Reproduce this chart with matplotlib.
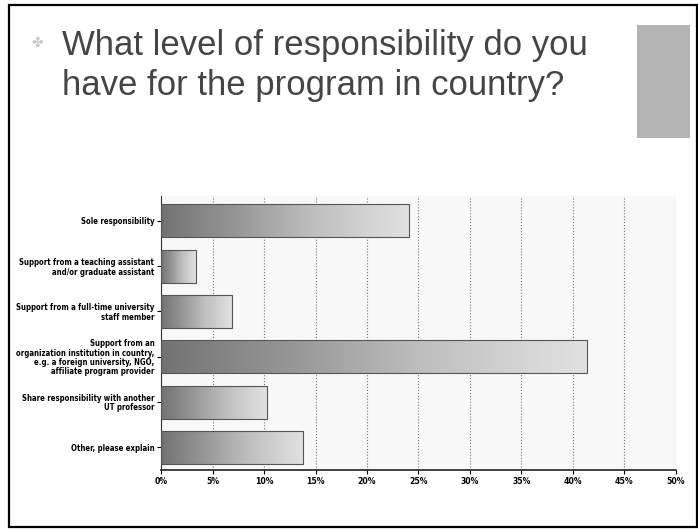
import matplotlib.pyplot as plt
import matplotlib.patches as mpatches
from matplotlib import font_manager
import numpy as np

# Survey answers (percent of respondents)
categories = [
    "Sole responsibility",
    "Support from a teaching assistant\nand/or graduate assistant",
    "Support from a full-time university\nstaff member",
    "Support from an\norganization institution in country,\ne.g. a foreign university, NGO,\naffiliate program provider",
    "Share responsibility with another\nUT professor",
    "Other, please explain",
]
values = [24.1, 3.4, 6.9, 41.4, 10.3, 13.8]
tick_values = [0, 5, 10, 15, 20, 25, 30, 35, 40, 45, 50]
tick_labels = ["%d%%" % t for t in tick_values]
title = "What level of responsibility do you\nhave for the program in country?"

# look for a condensed bold face, else fall back to a smaller Liberation Sans
cond = None
for f in font_manager.fontManager.ttflist:
    n = f.fname.lower()
    if ("condensed" in n or "narrow" in n) and "bold" in n and "oblique" not in n and "italic" not in n:
        cond = f.fname
        break
if cond:
    lab_font = font_manager.FontProperties(fname=cond, size=5.6)
    tick_font = font_manager.FontProperties(fname=cond, size=6.2)
else:
    lab_font = font_manager.FontProperties(family="Liberation Sans", weight="bold", size=5.1)
    tick_font = font_manager.FontProperties(family="Liberation Sans", weight="bold", size=6)

fig = plt.figure(figsize=(6.98, 5.29), dpi=100)

# slide frame
fig.patches.append(mpatches.Rectangle((0.013, 0.004), 0.985, 0.987, transform=fig.transFigure,
                                      fill=False, edgecolor="black", linewidth=1.6))
# grey block top right
fig.patches.append(mpatches.Rectangle((0.913, 0.739), 0.076, 0.214, transform=fig.transFigure,
                                      facecolor="#b4b4b4", edgecolor="none"))

fig.text(0.089, 0.945, title, fontsize=25, color="#454545", va="top", ha="left",
         family="Liberation Sans", linespacing=1.28)
fig.text(0.054, 0.919, "\u2724", fontsize=10, color="#c8c8c8", va="center", ha="center")

ax = fig.add_axes([0.231, 0.1115, 0.737, 0.518])
y = np.arange(len(categories))
h = 0.73

bars = ax.barh(y, values, height=h, color="none", edgecolor="#555555", linewidth=0.8, zorder=3)
grad = np.linspace(0, 1, 256).reshape(1, -1)
for b, v in zip(bars, values):
    yy = b.get_y()
    im = ax.imshow(grad, cmap="Greys_r", vmin=-0.9, vmax=1.5, aspect="auto",
                   extent=(0, v, yy, yy + h), zorder=2, interpolation="bilinear")
    im.set_clip_path(b)

ax.set_xlim(0, 50)
ax.set_ylim(len(categories) - 0.5, -0.55)
ax.set_xticks(tick_values)
ax.set_xticklabels(tick_labels, fontproperties=tick_font)
ax.set_yticks(y)
ax.set_yticklabels(categories, fontproperties=lab_font, linespacing=1.05)
ax.grid(axis="x", linestyle=":", color="#777777", linewidth=0.8, zorder=0)
ax.set_facecolor("#f8f8f8")
for s in ["top", "right"]:
    ax.spines[s].set_visible(False)
ax.spines["left"].set_color("#333333")
ax.spines["bottom"].set_color("#222222")
ax.spines["bottom"].set_linewidth(1.2)
ax.tick_params(axis="both", length=3, width=0.8, pad=2)

fig.savefig("out.png", dpi=100)
